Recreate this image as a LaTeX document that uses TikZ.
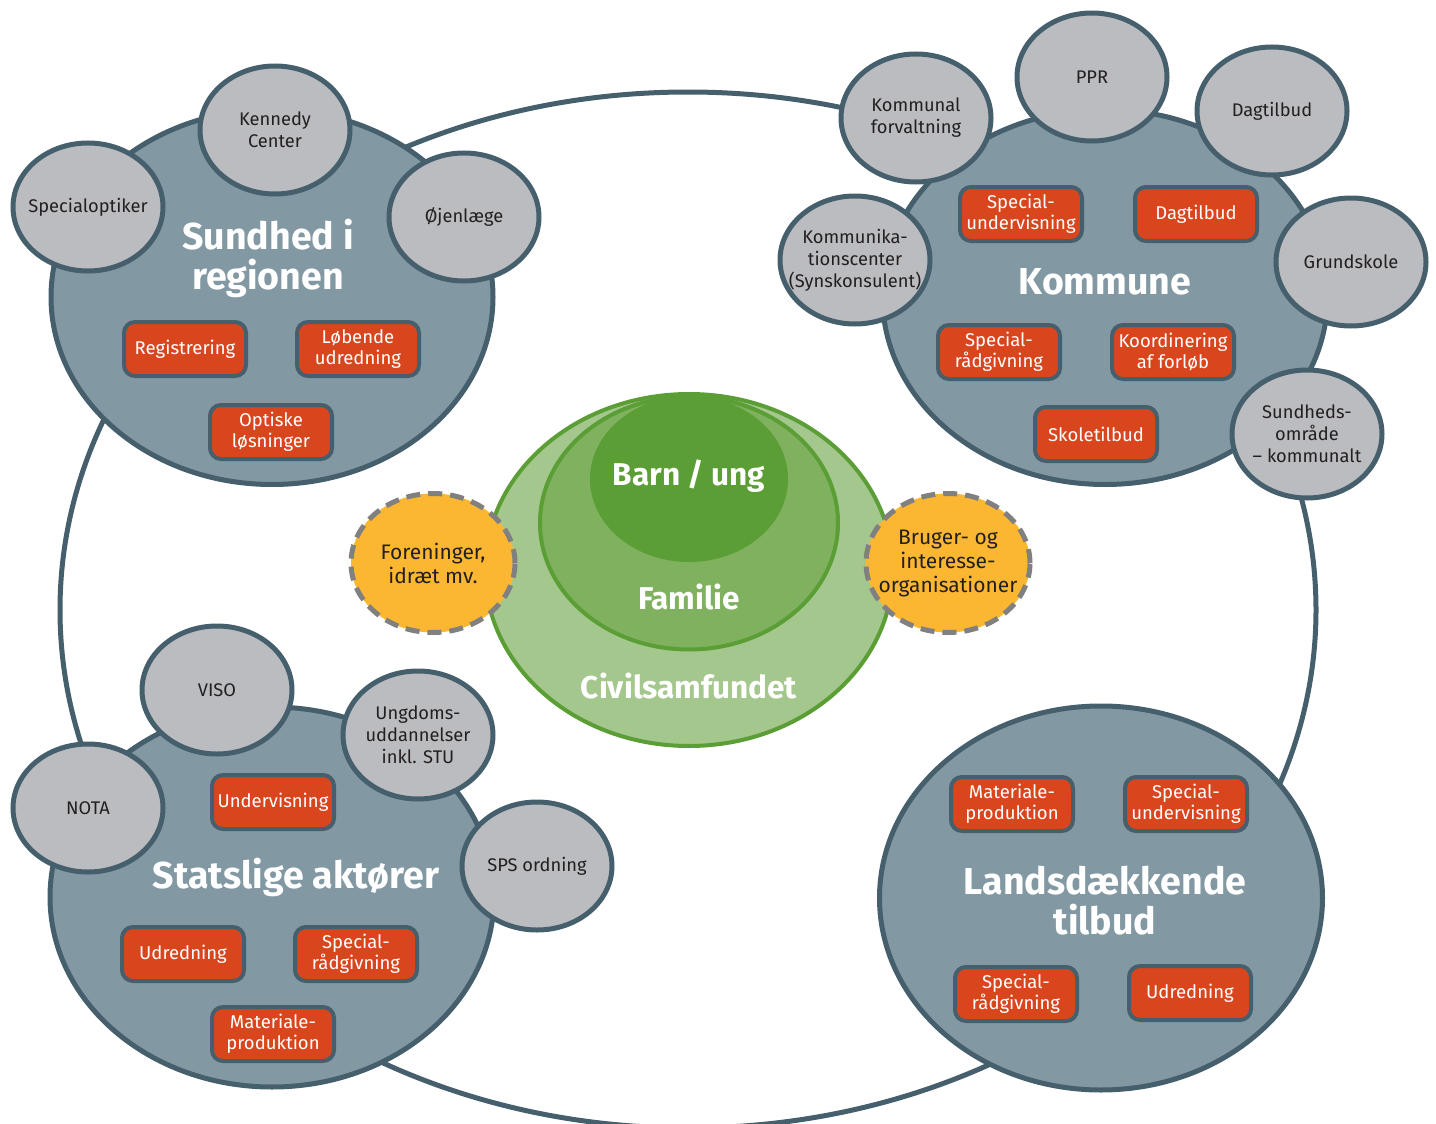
\documentclass[tikz,border=0pt]{standalone}
\usepackage{fontspec}
\setmainfont{Fira Sans}
\usepackage{tikz}
\usetikzlibrary{shapes.geometric}
\usepackage{xcolor}

\definecolor{slate}{RGB}{70,95,108}
\definecolor{groupfill}{RGB}{130,152,163}
\definecolor{memberfill}{RGB}{187,188,192}
\definecolor{taskfill}{RGB}{217,70,30}
\definecolor{greendark}{RGB}{90,158,53}
\definecolor{greenmid}{RGB}{128,177,95}
\definecolor{greenlight}{RGB}{164,199,141}
\definecolor{orgfill}{RGB}{251,183,49}
\definecolor{dashgrey}{RGB}{128,128,128}
\definecolor{textdark}{RGB}{35,31,32}

\begin{document}
\begin{tikzpicture}[x=1pt, y=-1pt,
    group/.style={ellipse, draw=slate, line width=5pt, fill=groupfill, inner sep=0pt},
    member/.style={ellipse, draw=slate, line width=5pt, fill=memberfill, minimum width=150pt, minimum height=128pt, inner sep=-20pt, align=center, text=textdark, font=\fontsize{18.3}{22}\selectfont},
    task/.style={rectangle, rounded corners=11pt, draw=slate, line width=4pt, fill=taskfill, minimum width=122pt, minimum height=54pt, inner sep=0pt, align=center, text=white, font=\fontsize{18.5}{21}\selectfont},
    title/.style={align=center, text=white, font=\fontsize{37.5}{40}\selectfont\bfseries},
    ring/.style={ellipse, draw=greendark, line width=4pt, inner sep=0pt},
    ringlabel/.style={text=white, font=\fontsize{31.5}{34}\selectfont\bfseries},
    org/.style={ellipse, draw=dashgrey, line width=5pt, dash pattern=on 14pt off 8pt, fill=orgfill, minimum width=164pt, minimum height=139pt, inner sep=-20pt, align=center, text=textdark, font=\fontsize{21}{24}\selectfont}]

\useasboundingbox (0,0) rectangle (1436,1124);

% Outer ring
\draw[draw=slate, line width=5pt] (688,610) ellipse [x radius=628pt, y radius=518pt];

% Sundhed i regionen
\node[group, minimum width=442pt, minimum height=375pt] (sundhed) at (272,297) {};
\node[title] (sundhedT) at (268,258) {Sundhed i\\regionen};
\node[member] (specialoptiker) at (88,207) {Specialoptiker};
\node[member] (kennedy) at (275,130) {Kennedy\\Center};
\node[member] (ojenlaege) at (464,217) {Øjenlæge};
\node[task] (registrering) at (185,349) {Registrering};
\node[task] (lobende) at (358,349) {Løbende\\udredning};
\node[task] (optiske) at (271,432) {Optiske\\løsninger};

% Kommune
\node[group, minimum width=445pt, minimum height=375pt] (kommune) at (1105,297) {};
\node[title] (kommuneT) at (1105,282) {Kommune};
\node[member] (forvaltning) at (916,118) {Kommunal\\forvaltning};
\node[member] (ppr) at (1092,77) {PPR};
\node[member] (dagtilbudM) at (1272,111) {Dagtilbud};
\node[member] (grundskole) at (1351,262) {Grundskole};
\node[member] (kommcenter) at (855,260) {Kommunika-\\tionscenter\\(Synskonsulent)};
\node[member] (sundhedsomr) at (1307,434) {Sundheds-\\område\\– kommunalt};
\node[task] (specundK) at (1021,214) {Special-\\undervisning};
\node[task] (dagtilbudT) at (1196,214) {Dagtilbud};
\node[task] (specraadK) at (999,352) {Special-\\rådgivning};
\node[task] (koordinering) at (1173,352) {Koordinering\\af forløb};
\node[task] (skoletilbud) at (1096,434) {Skoletilbud};

% Civilsamfundet
\node[ring, fill=greenlight, minimum width=408pt, minimum height=352pt] (civil) at (689,570) {};
\node[ring, fill=greenmid, minimum width=298pt, minimum height=253pt] (familie) at (689,523) {};
\node[ellipse, fill=greendark, minimum width=198pt, minimum height=166pt, inner sep=0pt] (barn) at (689,479) {};
\node[ringlabel] (barnT) at (689,476) {Barn / ung};
\node[ringlabel] (familieT) at (689,597) {Familie};
\node[ringlabel] (civilT) at (689,686) {Civilsamfundet};

% Organisationer
\node[org] (foreninger) at (433,563) {Foreninger,\\idræt mv.};
\node[org] (bruger) at (948,563) {Bruger- og\\interesse-\\organisationer};

% Statslige aktoerer
\node[group, minimum width=444pt, minimum height=380pt] (statslige) at (272,897) {};
\node[title] (statsligeT) at (296,877) {Statslige aktører};
\node[member] (viso) at (217,690) {VISO};
\node[member] (ungdom) at (418,735) {Ungdoms-\\uddannelser\\inkl. STU};
\node[member] (nota) at (88,808) {NOTA};
\node[member] (sps) at (537,866) {SPS ordning};
\node[task] (undervisning) at (273,802) {Undervisning};
\node[task] (udredningS) at (183,954) {Udredning};
\node[task] (specraadS) at (356,954) {Special-\\rådgivning};
\node[task] (materialeS) at (273,1034) {Materiale-\\produktion};

% Landsdaekkende tilbud
\node[group, minimum width=443pt, minimum height=384pt] (lands) at (1101,898) {};
\node[title] (landsT) at (1105,901) {Landsdækkende\\tilbud};
\node[task] (materialeL) at (1012,804) {Materiale-\\produktion};
\node[task] (specundL) at (1186,804) {Special-\\undervisning};
\node[task] (specraadL) at (1016,994) {Special-\\rådgivning};
\node[task] (udredningL) at (1190,993) {Udredning};

\end{tikzpicture}
\end{document}
